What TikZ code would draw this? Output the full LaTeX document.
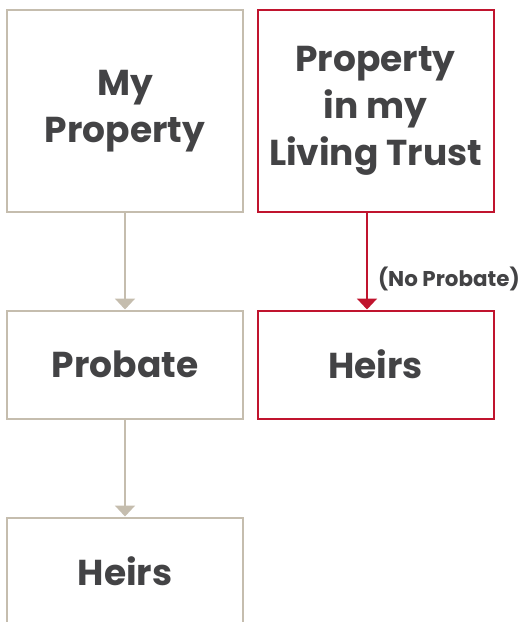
\documentclass[tikz,border=0pt]{standalone}
\usepackage{fontspec}
\setmainfont{Poppins}
\usetikzlibrary{arrows.meta}
\definecolor{tan}{HTML}{C5BDAE}
\definecolor{trustred}{HTML}{C0142E}
\definecolor{txt}{HTML}{434345}
\begin{document}
\begin{tikzpicture}[x=1pt,y=-1pt,
  box/.style={draw, line width=2pt, minimum width=236pt, inner sep=0pt, align=center,
    text=txt, font=\fontsize{36}{47}\selectfont\bfseries},
  tanbox/.style={box, draw=tan},
  redbox/.style={box, draw=trustred},
  conn/.style={line width=2pt, -{Triangle[width=20pt,length=11pt]}}]
\useasboundingbox (0,0) rectangle (520,622);
\clip (0,0) rectangle (520,622);
\node[tanbox, minimum height=202pt] (mine) at (125,111) {My\\Property};
\node[redbox, minimum height=202pt] (trust) at (375.5,111) {Property\\in my\\Living Trust};
\node[tanbox, minimum height=108pt] (probate) at (125,364.5) {Probate};
\node[redbox, minimum height=108pt] (heirsR) at (375.5,364.5) {Heirs};
\node[tanbox, minimum height=108pt] (heirsL) at (125,571.5) {Heirs};
\draw[conn, tan] (mine.south) -- (probate.north);
\draw[conn, tan] (probate.south) -- (heirsL.north);
\draw[conn, trustred] (trust.south -| 367,0) -- (heirsR.north -| 367,0)
  node[pos=0.68, right=9pt, inner sep=1pt, text=txt, font=\fontsize{21.4}{24}\selectfont\bfseries] (np) {(No Probate)};
\end{tikzpicture}
\end{document}
